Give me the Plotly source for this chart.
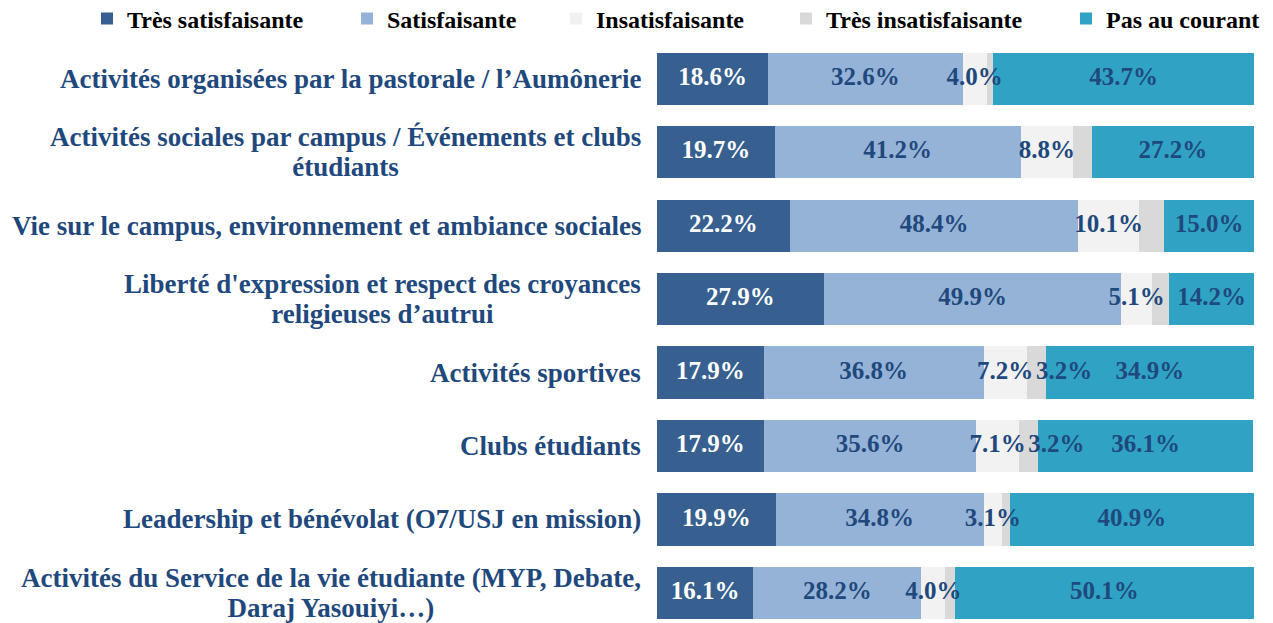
import plotly.graph_objects as go

categories = [
    "Activités organisées par la pastorale / l’Aumônerie",
    "Activités sociales par campus / Événements et clubs<br>étudiants",
    "Vie sur le campus, environnement et ambiance sociales",
    "Liberté d'expression et respect des croyances<br>religieuses d’autrui",
    "Activités sportives",
    "Clubs étudiants",
    "Leadership et bénévolat (O7/USJ en mission)",
    "Activités du Service de la vie étudiante (MYP, Debate,<br>Daraj Yasouiyi…)",
]
series_names = ["Très satisfaisante", "Satisfaisante", "Insatisfaisante",
                "Très insatisfaisante", "Pas au courant"]
tres_satisfaisante = [18.6, 19.7, 22.2, 27.9, 17.9, 17.9, 19.9, 16.1]
satisfaisante = [32.6, 41.2, 48.4, 49.9, 36.8, 35.6, 34.8, 28.2]
insatisfaisante = [4.0, 8.8, 10.1, 5.1, 7.2, 7.1, 3.1, 4.0]
tres_insatisfaisante = [1.1, 3.1, 4.3, 2.9, 3.2, 3.2, 1.3, 1.6]
pas_au_courant = [43.7, 27.2, 15.0, 14.2, 34.9, 36.1, 40.9, 50.1]
tres_insat_labelled = [False, False, False, False, True, True, False, False]

colors = ["#375F8F", "#95B3D7", "#F2F2F2", "#D9D9D9", "#30A3C4"]
text_colors = ["#FFFFFF", "#1F497D", "#1F497D", "#1F497D", "#1F497D"]
legend_px = [87, 347, 556, 786, 1066]

all_values = [tres_satisfaisante, satisfaisante, insatisfaisante,
              tres_insatisfaisante, pas_au_courant]

W, H = 1273, 623
FONT = "Liberation Serif"
fig = go.Figure()

# stacked bars
for i, (name, vals) in enumerate(zip(series_names, all_values)):
    lg = "legend" if i == 0 else f"legend{i+1}"
    fig.add_trace(go.Bar(
        y=categories, x=vals, name=name, orientation="h",
        marker=dict(color=colors[i], line=dict(width=0)),
        legend=lg, hoverinfo="skip", showlegend=True,
    ))

# data labels drawn on top of all bars
starts = [0.0] * len(categories)
for i, vals in enumerate(all_values):
    xs, ys, ts = [], [], []
    for j, v in enumerate(vals):
        if i == 3:
            if tres_insat_labelled[j]:
                xs.append(starts[j] + v / 2); ys.append(categories[j]); ts.append(f"{v:.1f}%")
        else:
            xs.append(starts[j] + v / 2); ys.append(categories[j]); ts.append(f"{v:.1f}%")
        starts[j] += v
    fig.add_trace(go.Scatter(
        x=xs, y=ys, text=ts, mode="text",
        textposition="middle right" if i == 3 else "middle center",
        textfont=dict(family=FONT, size=25, color=text_colors[i], weight="bold"),
        showlegend=False, hoverinfo="skip", cliponaxis=False,
    ))

legend_common = dict(
    orientation="h", xref="container", yref="container",
    yanchor="middle", y=1 - 19 / H, xanchor="left",
    font=dict(family=FONT, size=24, color="#000000", weight="bold"),
    bgcolor="rgba(0,0,0,0)", itemclick=False, itemdoubleclick=False,
)
layout_legends = {}
for i, px in enumerate(legend_px):
    key = "legend" if i == 0 else f"legend{i+1}"
    layout_legends[key] = dict(legend_common, x=px / W)

# category labels (multi-line labels centred, tighter line spacing)
for cat in categories:
    lines = cat.split("<br>")
    if len(lines) > 1:
        txt = "<br>".join(f"<span style='font-size:27px'>{ln}</span>" for ln in lines)
        size = 23
    else:
        txt = cat
        size = 27
    fig.add_annotation(
        x=0, xref="paper", y=cat, yref="y", xanchor="right", xshift=-14,
        text=txt, showarrow=False, align="center",
        font=dict(family=FONT, size=size, color="#1F497D", weight="bold"),
    )

fig.update_layout(
    width=W, height=H, barmode="stack", bargap=0.29,
    plot_bgcolor="white", paper_bgcolor="white",
    margin=dict(l=657, r=19, t=42, b=0, autoexpand=False),
    showlegend=True,
    font=dict(family=FONT, size=22),
    xaxis=dict(range=[0, 100], showgrid=False, showticklabels=False,
               zeroline=False, showline=False, ticks=""),
    yaxis=dict(range=[7.41, -0.50], autorange=False, showticklabels=False,
               showgrid=False, zeroline=False, showline=False, ticks=""),
    **layout_legends,
)
fig.write_html("out.html", config={"displayModeBar": False},
               post_script="document.body.style.margin='0';")
